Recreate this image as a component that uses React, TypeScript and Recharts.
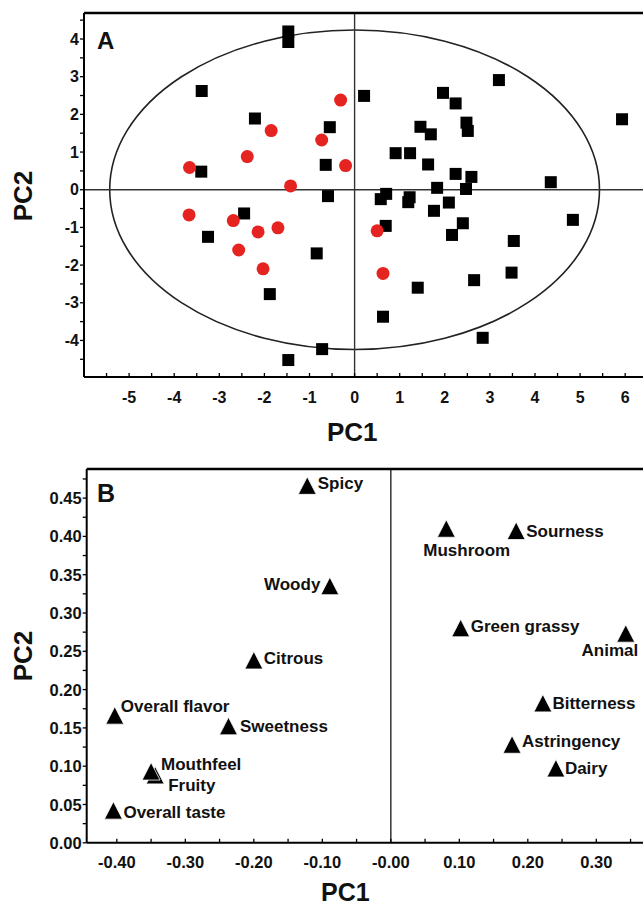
import React from "react";
import { ScatterChart, Scatter, XAxis, YAxis, ReferenceLine, ReferenceArea } from "recharts";

const FONT = '"Liberation Sans", Arial, Helvetica, sans-serif';
const RED = "#e52421";

// ---- Panel A: sample scores ----
const squarePC1 = [
  -1.47, -1.47, -3.39, -2.21, -0.55, 0.21, -0.64, -3.4, -0.59, 1.96, 2.24, 3.2, 5.93, 1.46, 1.69, 2.48,
  2.51, 0.91, 1.23, 1.63, 2.24, 2.59, 4.35, 1.83, 2.47, 0.7, 0.58, 1.22, 1.19, 2.09, 1.76, 2.4, 2.16,
  0.69, 4.84, 3.53, 3.48, 2.65, 1.4, 0.63, 2.84, -0.72, -1.47, -1.88, -0.84, -2.45, -3.25,
];
const squarePC2 = [
  4.2, 3.92, 2.62, 1.89, 1.66, 2.49, 0.66, 0.48, -0.17, 2.57, 2.29, 2.91, 1.87, 1.67, 1.47, 1.78,
  1.56, 0.97, 0.97, 0.67, 0.42, 0.34, 0.2, 0.05, 0.02, -0.11, -0.25, -0.2, -0.33, -0.34, -0.56, -0.89,
  -1.2, -0.96, -0.8, -1.36, -2.2, -2.4, -2.6, -3.37, -3.93, -4.23, -4.52, -2.77, -1.69, -0.63, -1.25,
];
const circlePC1 = [-0.31, -1.85, -0.73, -2.38, -3.66, -0.2, -1.42, -3.67, -2.69, -2.14, -1.7, -2.57, -2.03, 0.5, 0.63];
const circlePC2 = [2.38, 1.57, 1.32, 0.88, 0.59, 0.64, 0.1, -0.67, -0.82, -1.12, -1.01, -1.6, -2.1, -1.09, -2.22];

const ellipsePC1 = 5.43;
const ellipsePC2 = 4.24;

const aDomainX = [-6, 6.5];
const aDomainY = [-4.97, 4.69];
const aTicksX = [-5.5, -5, -4.5, -4, -3.5, -3, -2.5, -2, -1.5, -1, -0.5, 0, 0.5, 1, 1.5, 2, 2.5, 3, 3.5, 4, 4.5, 5, 5.5, 6];
const aTicksY = [-4.5, -4, -3.5, -3, -2.5, -2, -1.5, -1, -0.5, 0, 0.5, 1, 1.5, 2, 2.5, 3, 3.5, 4, 4.5];

// ---- Panel B: attribute loadings ----
const attrNames = [
  "Spicy", "Woody", "Citrous", "Mushroom", "Sourness", "Green grassy", "Animal", "Overall flavor",
  "Sweetness", "Fruity", "Mouthfeel", "Overall taste", "Bitterness", "Astringency", "Dairy",
];
const attrPC1 = [-0.122, -0.089, -0.2, 0.081, 0.183, 0.102, 0.343, -0.403, -0.237, -0.344, -0.35, -0.405, 0.222, 0.177, 0.241];
const attrPC2 = [0.466, 0.335, 0.238, 0.41, 0.407, 0.28, 0.273, 0.166, 0.152, 0.088, 0.093, 0.042, 0.182, 0.128, 0.097];

const bDomainX = [-0.444, 0.38];
const bDomainY = [0, 0.488];
const bTicksX = [-0.4, -0.35, -0.3, -0.25, -0.2, -0.15, -0.1, -0.05, 0, 0.05, 0.1, 0.15, 0.2, 0.25, 0.3, 0.35];
const bTicksY = [0, 0.025, 0.05, 0.075, 0.1, 0.125, 0.15, 0.175, 0.2, 0.225, 0.25, 0.275, 0.3, 0.325, 0.35, 0.375, 0.4, 0.425, 0.45, 0.475];

const squares = squarePC1.map((x, i) => ({ x, y: squarePC2[i] }));
const circles = circlePC1.map((x, i) => ({ x, y: circlePC2[i] }));
const attributes = attrNames.map((name, i) => ({ name, x: attrPC1[i], y: attrPC2[i] }));

// label placement around each triangle (dx, dy, anchor)
const labelPos: Record<string, [number, number, string]> = {
  Spicy: [10.5, -2, "start"],
  Woody: [-9.5, -2, "end"],
  Citrous: [10, -1.5, "start"],
  Mushroom: [-23, 22, "start"],
  Sourness: [10, 0, "start"],
  "Green grassy": [10, -1.5, "start"],
  Animal: [12.5, 17, "end"],
  "Overall flavor": [6, -9, "start"],
  Sweetness: [11.5, 0.5, "start"],
  Fruity: [13, 10, "start"],
  Mouthfeel: [10, -7.5, "start"],
  "Overall taste": [10, 1.5, "start"],
  Bitterness: [9.5, 0, "start"],
  Astringency: [10, -3, "start"],
  Dairy: [9, 0, "start"],
};

const fmtA = (v: number) => (Number.isInteger(v) ? String(v) : null);
const fmtBX = (v: number) => (Math.round(v * 100) % 10 === 0 ? (v === 0 ? "-0.00" : v.toFixed(2)) : null);
const fmtBY = (v: number) => (Math.round(v * 1000) % 50 === 0 ? v.toFixed(2) : null);

const XTick = ({ x, y, payload, fmt, off, fs }: any) => {
  const label = fmt(payload.value);
  return (
    <g>
      <line x1={x} x2={x} y1={y} y2={y - 4} stroke="#000" strokeWidth={1.3} />
      {label !== null && (
        <text x={x} y={y + off} textAnchor="middle" dominantBaseline="central" fontFamily={FONT} fontWeight="bold" fontSize={fs} fill="#111">
          {label}
        </text>
      )}
    </g>
  );
};

const YTick = ({ x, y, payload, fmt, fs }: any) => {
  const label = fmt(payload.value);
  return (
    <g>
      <line x1={x - 4} x2={x} y1={y} y2={y} stroke="#000" strokeWidth={1.3} />
      {label !== null && (
        <text x={x - 5} y={y} textAnchor="end" dominantBaseline="central" fontFamily={FONT} fontWeight="bold" fontSize={fs} fill="#111">
          {label}
        </text>
      )}
    </g>
  );
};

const SquareShape = (p: any) => <rect x={p.cx - 6} y={p.cy - 6} width={12} height={12} fill="#000" />;
const CircleShape = (p: any) => <circle cx={p.cx} cy={p.cy} r={6.5} fill={RED} />;

const EllipseShape = (p: any) => (
  <ellipse cx={p.x + p.width / 2} cy={p.y + p.height / 2} rx={Math.abs(p.width) / 2} ry={Math.abs(p.height) / 2} fill="none" stroke="#222" strokeWidth={1.6} />
);

const TriangleShape = (p: any) => {
  const { cx, cy, payload } = p;
  const [dx, dy, anchor] = labelPos[payload.name] || [10, 0, "start"];
  return (
    <g>
      <polygon points={`${cx},${cy - 9} ${cx + 9},${cy + 8.5} ${cx - 9},${cy + 8.5}`} fill="#000" stroke="#fff" strokeWidth={0.8} />
      <text x={cx + dx} y={cy + dy} textAnchor={anchor} dominantBaseline="central" fontFamily={FONT} fontWeight="bold" fontSize={17} fill="#111">
        {payload.name}
      </text>
    </g>
  );
};

const Overlay = () => (
  <svg width={643} height={907} style={{ position: "absolute", left: 0, top: 0, pointerEvents: "none" }}>
    <g fontFamily={FONT} fontWeight="bold" fill="#111">
      <text x={97} y={49} fontSize={24}>A</text>
      <text x={97} y={502} fontSize={25}>B</text>
      <text x={327} y={441} fontSize={26}>PC1</text>
      <text x={321} y={901} fontSize={25}>PC1</text>
      <text transform="translate(22.5,196) rotate(-90)" textAnchor="middle" dominantBaseline="central" fontSize={26}>PC2</text>
      <text transform="translate(22.5,656) rotate(-90)" textAnchor="middle" dominantBaseline="central" fontSize={26}>PC2</text>
    </g>
  </svg>
);

export default function App() {
  return (
    <div style={{ position: "absolute", left: 0, top: 0, width: 643, height: 907, overflow: "hidden", background: "#fff" }}>
      <div style={{ position: "absolute", left: 0, top: 0 }}>
        <ScatterChart width={700} height={430} margin={{ top: 13, right: 52.25, bottom: 8, left: 24 }}>
          <XAxis
            type="number" dataKey="x" domain={aDomainX} ticks={aTicksX} interval={0} allowDataOverflow
            height={45} tickSize={0} tickMargin={0} tickLine={false}
            axisLine={{ stroke: "#000", strokeWidth: 2 }}
            tick={(p: any) => <XTick {...p} fmt={fmtA} off={20} fs={16} />}
          />
          <YAxis
            type="number" dataKey="y" domain={aDomainY} ticks={aTicksY} interval={0} allowDataOverflow
            width={60} tickSize={0} tickMargin={0} tickLine={false}
            axisLine={{ stroke: "#000", strokeWidth: 2 }}
            tick={(p: any) => <YTick {...p} fmt={fmtA} fs={16} />}
          />
          <ReferenceArea x1={-ellipsePC1} x2={ellipsePC1} y1={-ellipsePC2} y2={ellipsePC2} shape={EllipseShape} ifOverflow="visible" />
          <ReferenceLine x={0} stroke="#333" strokeWidth={1.4} />
          <ReferenceLine y={0} stroke="#333" strokeWidth={1.4} />
          <ReferenceLine y={aDomainY[1]} stroke="#000" strokeWidth={2.5} />
          <Scatter data={squares} shape={SquareShape} isAnimationActive={false} />
          <Scatter data={circles} shape={CircleShape} isAnimationActive={false} />
        </ScatterChart>
      </div>
      <div style={{ position: "absolute", left: 0, top: 440 }}>
        <ScatterChart width={700} height={467} margin={{ top: 29, right: 48.9, bottom: 9.2, left: 24.7 }}>
          <XAxis
            type="number" dataKey="x" domain={bDomainX} ticks={bTicksX} interval={0} allowDataOverflow
            height={55} tickSize={0} tickMargin={0} tickLine={false}
            axisLine={{ stroke: "#000", strokeWidth: 2 }}
            tick={(p: any) => <XTick {...p} fmt={fmtBX} off={19} fs={16.5} />}
          />
          <YAxis
            type="number" dataKey="y" domain={bDomainY} ticks={bTicksY} interval={0} allowDataOverflow
            width={62} tickSize={0} tickMargin={0} tickLine={false}
            axisLine={{ stroke: "#000", strokeWidth: 2 }}
            tick={(p: any) => <YTick {...p} fmt={fmtBY} fs={16.5} />}
          />
          <ReferenceLine x={0} stroke="#333" strokeWidth={1.5} />
          <ReferenceLine y={bDomainY[1]} stroke="#000" strokeWidth={2.5} />
          <Scatter data={attributes} shape={TriangleShape} isAnimationActive={false} />
        </ScatterChart>
      </div>
      <Overlay />
    </div>
  );
}
